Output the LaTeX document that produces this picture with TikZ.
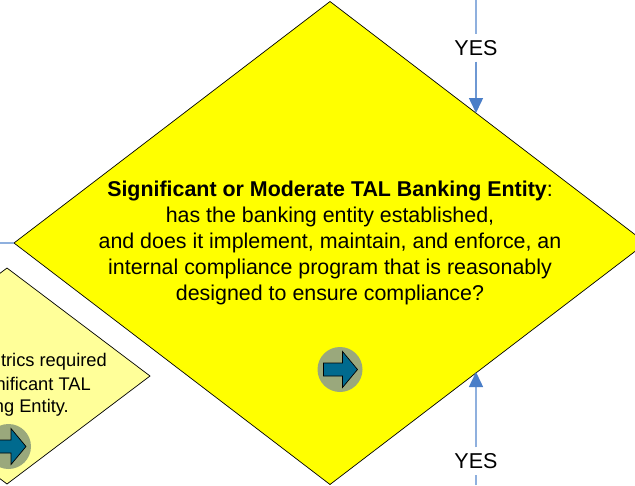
\documentclass[tikz,border=0pt]{standalone}
\usepackage{fontspec}
\setmainfont{Liberation Sans}
\usetikzlibrary{shapes.geometric,arrows.meta}
\definecolor{linkblue}{HTML}{4A7EC8}
\definecolor{linklight}{HTML}{8FB0DE}
\definecolor{gocircle}{HTML}{9AA87C}
\definecolor{goarrow}{HTML}{006A8E}
\definecolor{talyellow}{HTML}{FFFF00}
\definecolor{metricsyellow}{HTML}{FFFF99}
\tikzset{
  bigdia/.style={draw,shape=diamond,fill=talyellow,line width=0.7pt,inner sep=0pt,outer sep=0pt,shape aspect=1.3,minimum width=632pt,minimum height=483pt,align=center,font=\fontsize{21.4}{25.9}\selectfont},
  smalldia/.style={draw,shape=diamond,fill=metricsyellow,line width=0.7pt,inner sep=0pt,outer sep=0pt,minimum width=286pt,minimum height=216pt},
  smalltext/.style={anchor=base east,inner sep=0pt,font=\fontsize{18.3}{22}\selectfont},
  yes/.style={inner sep=0pt,minimum width=46pt,minimum height=27pt,font=\fontsize{21.5}{24}\selectfont},
  link/.style={linklight,line width=1.8pt},
  linkin/.style={linkblue!80!white,line width=1.5pt,-{Triangle[length=15pt,width=14pt,color=linkblue]}},
  gocirc/.style={circle,fill=gocircle,inner sep=0pt,minimum size=45pt},
  goarr/.style={draw=black,fill=goarrow,line width=0.7pt,line join=miter}
}
\begin{document}
\begin{tikzpicture}[x=1pt,y=-1pt]
\clip (0,0) rectangle (635,485);
\fill[white] (0,0) rectangle (635,485);

% Decision diamonds
\node[smalldia] (metrics) at (7,376) {};
\node[bigdia] (tal) at (330,243) {\textbf{Significant or Moderate TAL Banking Entity}:\\
has the banking entity established,\\
and does it implement, maintain, and enforce, an\\
internal compliance program that is reasonably\\
designed to ensure compliance?};

% Text of the small diamond
\node[smalltext] (line1) at (107,366.5) {trics required};
\node[smalltext] (line2) at (91,390) {nificant TAL};
\node[smalltext] (line3) at (69,412) {ng Entity.};

% Links into the big diamond
\coordinate (topstart) at (476,0);
\coordinate (topend) at (476,113);
\coordinate (botstart) at (476,485);
\coordinate (botend) at (476,372);
\coordinate (leftstart) at (0,243);
\node[yes] (yestop) at (476,48) {YES};
\node[yes] (yesbot) at (476,461) {YES};
\draw[link] (topstart) -- (yestop);
\draw[linkin] (yestop) -- (topend);
\draw[link] (botstart) -- (yesbot);
\draw[linkin,linklight] (yesbot) -- (botend);
\draw[link] (leftstart) -- (tal.west);

% Go buttons
\foreach \name/\pos in {gotal/{(340,369.5)},gometrics/{(8.5,446.5)}}{
  \node[gocirc] (\name) at \pos {};
  \draw[goarr] (\name.center) ++(-16.5,-6.5) -- ++(19,0) -- ++(0,-11.5) -- ++(15,18) -- ++(-15,18) -- ++(0,-11.5) -- ++(-19,0) -- cycle;
}
\end{tikzpicture}
\end{document}
